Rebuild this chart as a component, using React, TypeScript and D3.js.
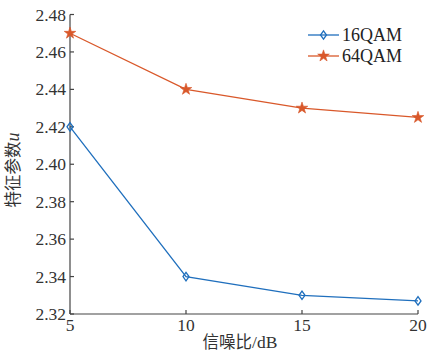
import React from "react";
import * as d3 from "d3";

const snr = [5, 10, 15, 20];
const qam16 = [2.42, 2.34, 2.33, 2.327];
const qam64 = [2.47, 2.44, 2.43, 2.425];
const yTicks = [2.32, 2.34, 2.36, 2.38, 2.4, 2.42, 2.44, 2.46, 2.48];
const xTicks = [5, 10, 15, 20];
const seriesNames = ["16QAM", "64QAM"];

const W = 429;
const H = 364;
const left = 70;
const right = 418;
const top = 14.5;
const bottom = 314;
const blue = "#1f6fbd";
const orange = "#d9582a";
const font = "'Liberation Serif', 'Times New Roman', serif";
const cjk = "'Noto Sans CJK SC', sans-serif";

const x = d3.scaleLinear().domain([5, 20]).range([left, right]);
const y = d3.scaleLinear().domain([2.32, 2.48]).range([bottom, top]);

const starPath = d3.symbol().type(d3.symbolStar).size(42)() as string;

function Diamond({ cx, cy }: { cx: number; cy: number }) {
  return (
    <path
      d={`M${cx},${cy - 4.2}L${cx + 3},${cy}L${cx},${cy + 4.2}L${cx - 3},${cy}Z`}
      fill="none"
      stroke={blue}
      strokeWidth={1.3}
    />
  );
}

function Star({ cx, cy }: { cx: number; cy: number }) {
  return <path d={starPath} transform={`translate(${cx},${cy})`} fill={orange} stroke={orange} strokeWidth={0.6} />;
}

export default function App() {
  const line = d3
    .line<number>()
    .x((_, i) => x(snr[i]))
    .y((d) => y(d));

  return (
    <svg width={W} height={H} style={{ position: "absolute", left: 0, top: 0, background: "#fff" }}>
      {/* axes */}
      <line x1={left} y1={top} x2={left} y2={bottom} stroke="#444" strokeWidth={1.2} />
      <line x1={left} y1={bottom} x2={right} y2={bottom} stroke="#444" strokeWidth={1.2} />
      {yTicks.map((t) => (
        <g key={t}>
          <line x1={left} x2={left + 4} y1={y(t)} y2={y(t)} stroke="#444" strokeWidth={1.2} />
          <text
            x={left - 4}
            y={y(t)}
            textAnchor="end"
            dominantBaseline="central"
            fontFamily={font}
            fontSize={17.5}
            fill="#333"
          >
            {t.toFixed(2)}
          </text>
        </g>
      ))}
      {xTicks.map((t) => (
        <g key={t}>
          <line x1={x(t)} x2={x(t)} y1={bottom} y2={bottom - 4} stroke="#444" strokeWidth={1.2} />
          <text x={x(t)} y={bottom + 17} textAnchor="middle" fontFamily={font} fontSize={17.5} fill="#333">
            {t}
          </text>
        </g>
      ))}
      {/* axis titles */}
      <text x={240} y={348} textAnchor="middle" fontSize={16.5} fill="#333">
        <tspan fontFamily={cjk}>信噪比</tspan>
        <tspan fontFamily={font} fontSize={17.5}>/dB</tspan>
      </text>
      <text
        transform={`translate(19,170) rotate(-90)`}
        textAnchor="middle"
        fontSize={16.5}
        fill="#333"
      >
        <tspan fontFamily={cjk}>特征参数</tspan>
        <tspan fontFamily={font} fontStyle="italic" fontSize={18}>u</tspan>
      </text>
      {/* series */}
      <path d={line(qam16) as string} fill="none" stroke={blue} strokeWidth={1.3} />
      <path d={line(qam64) as string} fill="none" stroke={orange} strokeWidth={1.3} />
      {qam16.map((v, i) => (
        <Diamond key={i} cx={x(snr[i])} cy={y(v)} />
      ))}
      {qam64.map((v, i) => (
        <Star key={i} cx={x(snr[i])} cy={y(v)} />
      ))}
      {/* legend */}
      <g>
        <line x1={308} x2={339} y1={35} y2={35} stroke={blue} strokeWidth={1.3} />
        <Diamond cx={323.5} cy={35} />
        <text x={342} y={35} dominantBaseline="central" fontFamily={font} fontSize={18} fill="#222">
          {seriesNames[0]}
        </text>
        <line x1={308} x2={339} y1={56} y2={56} stroke={orange} strokeWidth={1.3} />
        <Star cx={323.5} cy={56} />
        <text x={342} y={56} dominantBaseline="central" fontFamily={font} fontSize={18} fill="#222">
          {seriesNames[1]}
        </text>
      </g>
    </svg>
  );
}
